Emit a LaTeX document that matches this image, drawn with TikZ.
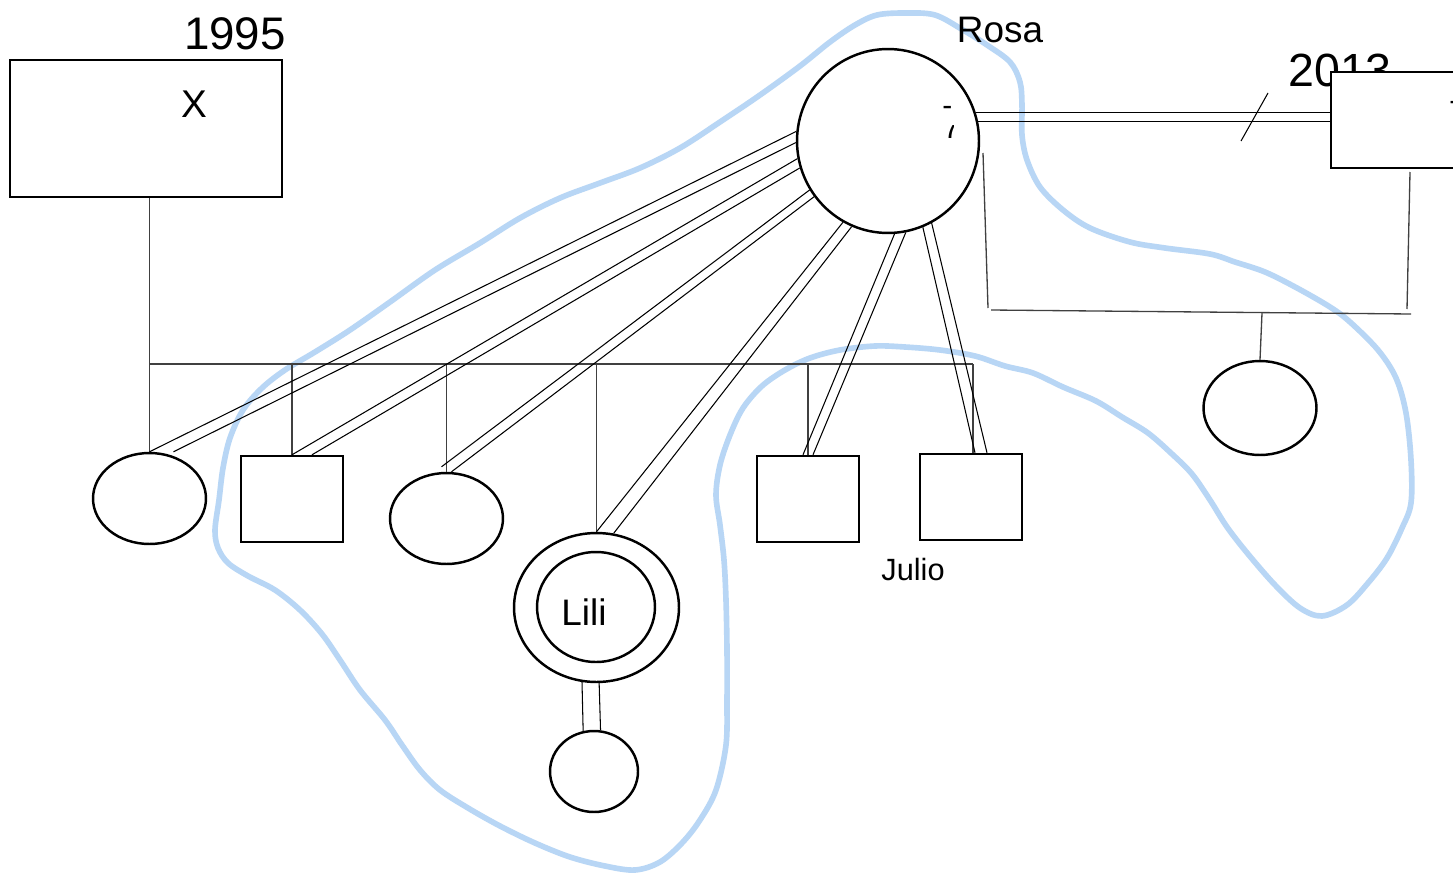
\documentclass[tikz,border=0pt]{standalone}
\usepackage{fontspec}
\setmainfont{Liberation Sans}
\usetikzlibrary{shapes.geometric,calc}
\definecolor{halo}{RGB}{184,214,245}
\newcommand\txtsize[1]{\fontsize{#1}{#1}\selectfont}
\begin{document}
\begin{tikzpicture}[x=0.02cm,y=-0.02cm,
  person/.style={draw, line width=1.4pt, fill=white, inner sep=0pt},
  male/.style={person, rectangle},
  female/.style={person, ellipse},
  tie/.style={line width=0.6pt},
  famline/.style={line width=0.75pt, draw=black!75},
  lbl/.style={inner sep=0pt, anchor=base},
]
\useasboundingbox (0,0) rectangle (1453,872);
\fill[white] (0,0) rectangle (1453,872);

% hand-drawn group outline
\draw[halo, line width=3.2pt, line join=round] plot[smooth cycle, tension=0.55] coordinates {
 (877,15) (905,13) (935,15) (963,30) (987,45) (1010,62) (1020,82) (1022,105) (1022,135)
 (1027,160) (1040,187) (1063,210) (1090,228) (1130,242) (1165,248) (1210,254) (1235,262)
 (1265,272) (1297,288) (1330,307) (1350,322) (1378,350) (1396,378) (1406,413) (1411,460)
 (1411,503) (1402,528) (1387,558) (1368,583) (1347,605) (1322,616) (1300,608) (1275,585)
 (1248,554) (1227,527) (1210,500) (1192,474) (1172,454) (1148,433) (1122,417) (1096,401)
 (1063,387) (1033,373) (1005,366) (975,356) (940,350) (905,347) (875,346) (840,350)
 (810,358) (785,370) (762,386) (743,408) (730,435) (720,465) (716,495) (720,525)
 (724,560) (726,600) (727,650) (727,700) (726,745) (716,790) (700,820) (682,843)
 (660,862) (635,870) (605,866) (570,857) (535,843) (500,826) (468,808) (440,790)
 (420,770) (402,745) (385,720) (360,690) (340,660) (322,634) (300,610) (275,590)
 (248,576) (228,563) (218,548) (215,530) (219,500) (223,468) (230,438) (243,410)
 (262,388) (285,370) (315,352) (350,330) (390,302) (435,270) (480,243) (520,218)
 (560,198) (600,183) (640,168) (680,148) (720,122) (760,95) (800,66) (830,42) (855,25)};

% labels behind the boxes
\node[lbl] (y1995) at (235,50) {\txtsize{26}1995};
\node[lbl] (y2013) at (1340,86) {\txtsize{26.5}2013};
\node[lbl] (rosalbl) at (1000,42) {\txtsize{21}Rosa};
\node[lbl] (juliolbl) at (913,580) {\txtsize{17.5}Julio};

% people
\node[male, minimum width=5.44cm, minimum height=2.74cm] (xbox) at (146,128.5) {};
\node[lbl] (xlbl) at (194,117) {\txtsize{22}X};
\node[female, minimum width=3.64cm, minimum height=3.68cm] (rosa) at (888,141) {};
\node[male, minimum width=2.98cm, minimum height=1.92cm] (husband) at (1405.5,120) {};

\node[female, minimum width=2.26cm, minimum height=1.82cm] (c1) at (149.5,498.5) {};
\node[male, minimum width=2.04cm, minimum height=1.72cm] (c2) at (292,499) {};
\node[female, minimum width=2.26cm, minimum height=1.82cm] (c3) at (446.5,518.5) {};
\node[female, minimum width=3.30cm, minimum height=2.98cm] (lili) at (596.5,607.5) {};
\node[female, minimum width=2.36cm, minimum height=2.20cm] (liliin) at (596,607) {};
\node[lbl] (lililbl) at (584,625) {\txtsize{21}Lili};
\node[male, minimum width=2.04cm, minimum height=1.72cm] (c5) at (808,499) {};
\node[male, minimum width=2.04cm, minimum height=1.72cm] (c6) at (971,497) {};
\node[female, minimum width=2.26cm, minimum height=1.88cm] (c7) at (1260,408) {};
\node[female, minimum width=1.76cm, minimum height=1.62cm] (gc) at (594,771.5) {};

% text fragments cut off at the edges
\begin{scope}
  \clip (940,100) rectangle (953,112);
  \node[lbl, anchor=base west] (frag1) at (942,115) {\txtsize{17}-};
\end{scope}
\begin{scope}
  \clip (940,125) rectangle (953,141);
  \node[lbl, anchor=base west] (frag2) at (943,138) {\txtsize{17}7};
\end{scope}
\node[lbl, anchor=base west] (frag3) at (1449,110) {\txtsize{17}-};

% family of X: sibling bar and drops
\coordinate (sibbar) at (0,364);
\draw[famline] (xbox.south -| c1.north) -- (c1.north);
\draw[famline] (c1.north |- sibbar) -- ($(c6.north |- sibbar)+(2,0)$);
\draw[famline] (c2.north |- sibbar) -- (c2.north);
\draw[famline] (c3.north |- sibbar) -- (c3.north);
\draw[famline] (lili.north |- sibbar) -- (lili.north);
\draw[famline] (c5.north |- sibbar) -- (c5.north);
\draw[famline] ($(c6.north |- sibbar)+(2,0)$) -- ($(c6.north)+(2,0)$);

% family of Rosa and partner
\coordinate (ra) at (983,153);
\coordinate (rb) at (988,308);
\coordinate (rc) at (991,310);
\coordinate (rd) at (1411,314);
\coordinate (re) at (1410,172);
\coordinate (rf) at (1407,309);
\coordinate (rg) at (1262,313);
\draw[famline] (ra) -- (rb);
\draw[famline] (rc) -- (rd);
\draw[famline] (re) -- (rf);
\draw[famline] (rg) -- (c7.north);

% marriage with divorce slash
\draw[tie] (rosa.18) -- (rosa.18 -| husband.west);
\draw[tie] (rosa.12) -- (rosa.12 -| husband.west);
\coordinate (sl1) at (1268,93);
\coordinate (sl2) at (1241,141);
\draw[tie] (sl1) -- (sl2);

% close bonds from Rosa
\draw[tie] (rosa.174) -- (c1.north);
\draw[tie] (rosa.181) -- ($(c1.north)+(24,0)$);
\draw[tie] (rosa.191) -- (c2.north);
\draw[tie] (rosa.197) -- ($(c2.north)+(20,0)$);
\draw[tie] (rosa.212) -- ($(c3.north)+(-5,-5)$);
\draw[tie] (rosa.217) -- ($(c3.north)+(5,0)$);
\draw[tie] (rosa.241) -- (lili.north);
\draw[tie] (rosa.247) -- (lili.77);
\draw[tie] (rosa.274) -- ($(c5.north)+(-5,0)$);
\draw[tie] (rosa.281) -- ($(c5.north)+(5,0)$);
\draw[tie] (rosa.292) -- ($(c6.north)+(4,0)$);
\draw[tie] (rosa.298) -- ($(c6.north)+(16,0)$);

% Lili and her child
\draw[tie] (lili.259.6) -- (gc.105.7);
\draw[tie] (lili.272.7) -- (gc.81.5);
\end{tikzpicture}
\end{document}
